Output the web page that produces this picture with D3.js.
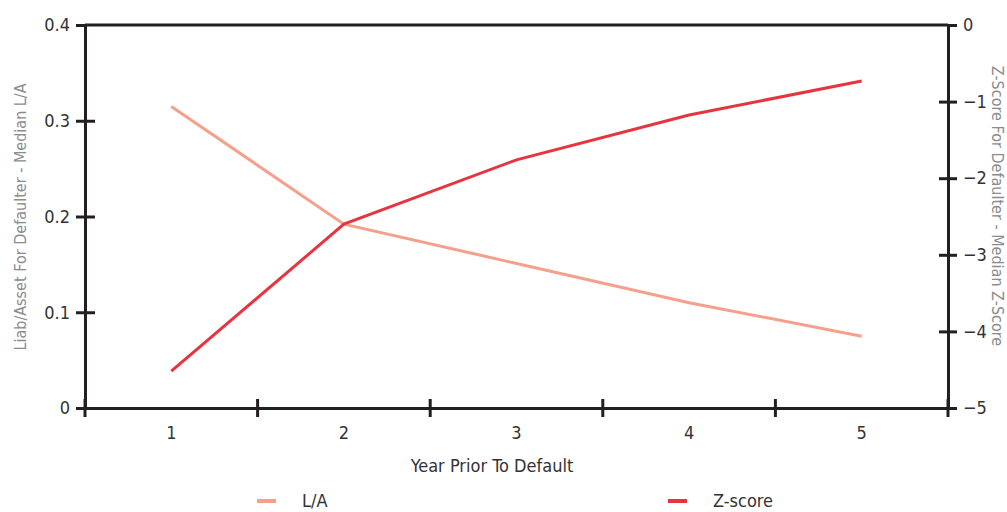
<!DOCTYPE html>
<html>
<head>
<meta charset="utf-8">
<script src="https://cdn.jsdelivr.net/npm/d3@7"></script>
<style>
  html, body { margin: 0; padding: 0; background: #fff; }
  svg { display: block; }
  text { font-family: "DejaVu Sans Condensed", "DejaVu Sans", sans-serif; }
</style>
</head>
<body>
<svg id="chart" width="1007" height="512"></svg>
<script>
const years = ["1", "2", "3", "4", "5"];
const laValues = [0.315, 0.192, 0.151, 0.110, 0.075];
const zValues = [-4.52, -2.60, -1.76, -1.175, -0.73];
const leftTicks = [0, 0.1, 0.2, 0.3, 0.4];
const rightTicks = [0, -1, -2, -3, -4, -5];
const seriesNames = ["L/A", "Z-score"];
const seriesColors = ["#f5a08c", "#e8343f"];
const xTitle = "Year Prior To Default";
const leftTitle = "Liab/Asset For Defaulter - Median L/A";
const rightTitle = "Z-Score For Defaulter - Median Z-Score";

const svg = d3.select("#chart");
const m = { left: 85, right: 948, top: 25, bottom: 408 };

const x = d3.scaleBand().domain(years).range([m.left, m.right]);
const yL = d3.scaleLinear().domain([0, 0.4]).range([m.bottom, m.top]);
const yR = d3.scaleLinear().domain([-5, 0]).range([m.bottom, m.top]);

const axisColor = "#231f20";
const labelColor = "#333";

// top frame line
svg.append("line").attr("x1", m.left).attr("x2", m.right).attr("y1", m.top).attr("y2", m.top)
  .attr("stroke", axisColor).attr("stroke-width", 3);

// bottom axis
const gx = svg.append("g").attr("transform", `translate(0,${m.bottom})`)
  .call(d3.axisBottom(x).tickSize(0).tickPadding(18));
gx.select(".domain").attr("stroke", axisColor).attr("stroke-width", 3);
gx.selectAll("text").attr("font-size", 18).attr("fill", labelColor);
// band boundary ticks
const bounds = years.map(d => x(d)).concat([m.right]);
svg.append("g").selectAll("line").data(bounds).join("line")
  .attr("x1", d => d).attr("x2", d => d)
  .attr("y1", m.bottom - 9).attr("y2", m.bottom + 9)
  .attr("stroke", axisColor).attr("stroke-width", 3);

// left axis
const gl = svg.append("g").attr("transform", `translate(${m.left},0)`)
  .call(d3.axisLeft(yL).tickValues(leftTicks).tickFormat(d => d === 0 ? "0" : d3.format(".1f")(d)).tickSize(9).tickPadding(6));
gl.select(".domain").attr("stroke", axisColor).attr("stroke-width", 3);
gl.selectAll(".tick line").attr("stroke", axisColor).attr("stroke-width", 3)
  .attr("x1", -9).attr("x2", d => (d === 0.4 || d === 0) ? 0 : 10);
gl.selectAll("text").attr("font-size", 18).attr("fill", labelColor);

// right axis
const gr = svg.append("g").attr("transform", `translate(${m.right},0)`)
  .call(d3.axisRight(yR).tickValues(rightTicks).tickFormat(d3.format("d")).tickSize(9).tickPadding(6));
gr.select(".domain").attr("stroke", axisColor).attr("stroke-width", 3);
gr.selectAll(".tick line").attr("stroke", axisColor).attr("stroke-width", 3)
  .attr("x1", d => (d === 0 || d === -5) ? 0 : -9).attr("x2", 9);
gr.selectAll("text").attr("font-size", 18).attr("fill", labelColor);

// lines
const cx = (i) => x(years[i]) + x.bandwidth() / 2;
const lineL = d3.line().x((d, i) => cx(i)).y(d => yL(d));
const lineR = d3.line().x((d, i) => cx(i)).y(d => yR(d));
svg.append("path").datum(laValues).attr("d", lineL).attr("fill", "none")
  .attr("stroke", seriesColors[0]).attr("stroke-width", 3);
svg.append("path").datum(zValues).attr("d", lineR).attr("fill", "none")
  .attr("stroke", seriesColors[1]).attr("stroke-width", 3);

// axis titles
svg.append("text").attr("x", 492).attr("y", 472)
  .attr("text-anchor", "middle").attr("font-size", 18).attr("fill", labelColor).text(xTitle);
svg.append("text").attr("transform", `translate(26,217) rotate(-90)`)
  .attr("text-anchor", "middle").attr("font-size", 16).attr("fill", "#8c8c8c").text(leftTitle);
svg.append("text").attr("transform", `translate(992,206) rotate(90)`)
  .attr("text-anchor", "middle").attr("font-size", 16).attr("fill", "#8c8c8c").text(rightTitle);

// legend
const legendX = [257, 668];
const lg = svg.append("g").selectAll("g").data(seriesNames).join("g")
  .attr("transform", (d, i) => `translate(${legendX[i]},501)`);
lg.append("line").attr("x1", 0).attr("x2", 19).attr("y1", 0).attr("y2", 0)
  .attr("stroke", (d, i) => seriesColors[i]).attr("stroke-width", 4);
lg.append("text").attr("x", 45).attr("y", 6).attr("font-size", 18).attr("fill", labelColor).text(d => d);
</script>
</body>
</html>
